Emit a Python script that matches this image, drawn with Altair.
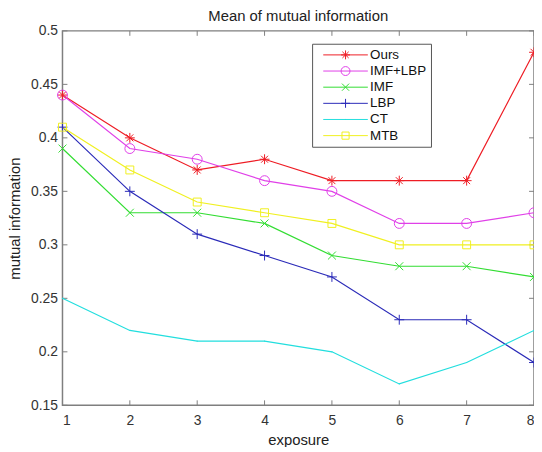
import altair as alt
import pandas as pd

exposure = [1, 2, 3, 4, 5, 6, 7, 8]
series_names = ["Ours", "IMF+LBP", "IMF", "LBP", "CT", "MTB"]
ours = [0.44, 0.40, 0.37, 0.38, 0.36, 0.36, 0.36, 0.48]
imf_lbp = [0.44, 0.39, 0.38, 0.36, 0.35, 0.32, 0.32, 0.33]
imf = [0.39, 0.33, 0.33, 0.32, 0.29, 0.28, 0.28, 0.27]
lbp = [0.41, 0.35, 0.31, 0.29, 0.27, 0.23, 0.23, 0.19]
ct = [0.25, 0.22, 0.21, 0.21, 0.20, 0.17, 0.19, 0.22]
mtb = [0.41, 0.37, 0.34, 0.33, 0.32, 0.30, 0.30, 0.30]
x_ticks = [1, 2, 3, 4, 5, 6, 7, 8]
y_ticks = [0.15, 0.2, 0.25, 0.3, 0.35, 0.4, 0.45, 0.5]

colors = ["#ee1c24", "#e040e8", "#33dd33", "#2a2ab8", "#22dede", "#f0f020"]

star = "M-1,0L1,0M0,-1L0,1M-0.7,-0.7L0.7,0.7M-0.7,0.7L0.7,-0.7"
circ = "M-1,0A1,1 0 1,0 1,0A1,1 0 1,0 -1,0"
xmark = "M-0.8,-0.8L0.8,0.8M-0.8,0.8L0.8,-0.8"
plus = "M-1,0L1,0M0,-1L0,1"
dot = "M-0.1,0L0.1,0"
sq = "M-0.8,-0.8L0.8,-0.8L0.8,0.8L-0.8,0.8Z"
markers = [star, circ, xmark, plus, dot, sq]
seg = "M-5,0L5,0"
legend_symbols = [seg + m for m in markers]

rows = []
for name, vals in zip(series_names, [ours, imf_lbp, imf, lbp, ct, mtb]):
    for e, v in zip(exposure, vals):
        rows.append({"exposure": e, "value": v, "series": name})
df = pd.DataFrame(rows)

W, H = 476, 378
FONT = "Liberation Sans"

xs = alt.Scale(domain=[1, 8], nice=False, zero=False)
ys = alt.Scale(domain=[0.15, 0.5], nice=False, zero=False)
cs = alt.Scale(domain=series_names, range=colors)

xenc = alt.X("exposure:Q", scale=xs, title="exposure",
             axis=alt.Axis(values=x_ticks, format="d", ticks=False, domain=False, grid=False,
                           labelPadding=8, titlePadding=6, titleFontSize=15))
yenc = alt.Y("value:Q", scale=ys, title="mutual information",
             axis=alt.Axis(values=y_ticks, format="~g", ticks=False, domain=False, grid=False,
                           labelPadding=5, titlePadding=8, titleFontSize=15))

lines = alt.Chart(df).mark_line(strokeWidth=1.2).encode(
    x=xenc, y=yenc,
    color=alt.Color("series:N", scale=cs, legend=None),
    detail="series:N",
)

points = alt.Chart(df).mark_point(filled=False, size=100, strokeWidth=1, opacity=1).encode(
    x="exposure:Q", y="value:Q",
    color=alt.Color("series:N", scale=cs, legend=None),
    shape=alt.Shape("series:N", scale=alt.Scale(domain=series_names, range=markers), legend=None),
)

leg = alt.Legend(title=None, orient="none", legendX=252, legendY=13,
                 fillColor="white", strokeColor="#555555", padding=4.5,
                 labelFont=FONT, labelFontSize=13.5, labelColor="#111111",
                 symbolSize=81, symbolStrokeWidth=1, symbolOffset=22.5, labelOffset=18,
                 rowPadding=1.3)

legend_layer = alt.Chart(df).transform_filter("false").mark_point(
    filled=False, size=81, strokeWidth=1, opacity=1).encode(
    x="exposure:Q", y="value:Q",
    color=alt.Color("series:N", scale=cs, legend=leg),
    shape=alt.Shape("series:N", scale=alt.Scale(domain=series_names, range=legend_symbols), legend=leg),
)

tickdf_x = pd.DataFrame({"t": x_ticks})
tickdf_y = pd.DataFrame({"t": y_ticks})
tc = "#7f7f7f"
xb = alt.Chart(tickdf_x).mark_rule(color=tc, strokeWidth=1).encode(
    x="t:Q", y=alt.value(H), y2=alt.value(H - 5))
xt = alt.Chart(tickdf_x).mark_rule(color=tc, strokeWidth=1).encode(
    x="t:Q", y=alt.value(0), y2=alt.value(5))
yl = alt.Chart(tickdf_y).mark_rule(color=tc, strokeWidth=1).encode(
    y="t:Q", x=alt.value(0), x2=alt.value(5))
yr = alt.Chart(tickdf_y).mark_rule(color=tc, strokeWidth=1).encode(
    y="t:Q", x=alt.value(W - 5), x2=alt.value(W))

chart = alt.layer(xb, xt, yl, yr, lines, points, legend_layer).resolve_scale(
    color="independent", shape="independent"
).properties(
    width=W, height=H,
    title=alt.Title("Mean of mutual information", fontSize=15, fontWeight="normal",
                    font=FONT, color="#222222", offset=0, anchor="middle"),
    autosize=alt.AutoSizeParams(type="none"),
    padding={"left": 55, "top": 21, "right": 0, "bottom": 40},
).configure_view(
    stroke="#7f7f7f", strokeWidth=1.5
).configure_axis(
    labelFont=FONT, titleFont=FONT, labelFontSize=14, labelColor="#333333",
    titleColor="#222222", titleFontWeight="normal"
)

chart.save("out.html", embed_options={"renderer": "svg", "actions": False})
